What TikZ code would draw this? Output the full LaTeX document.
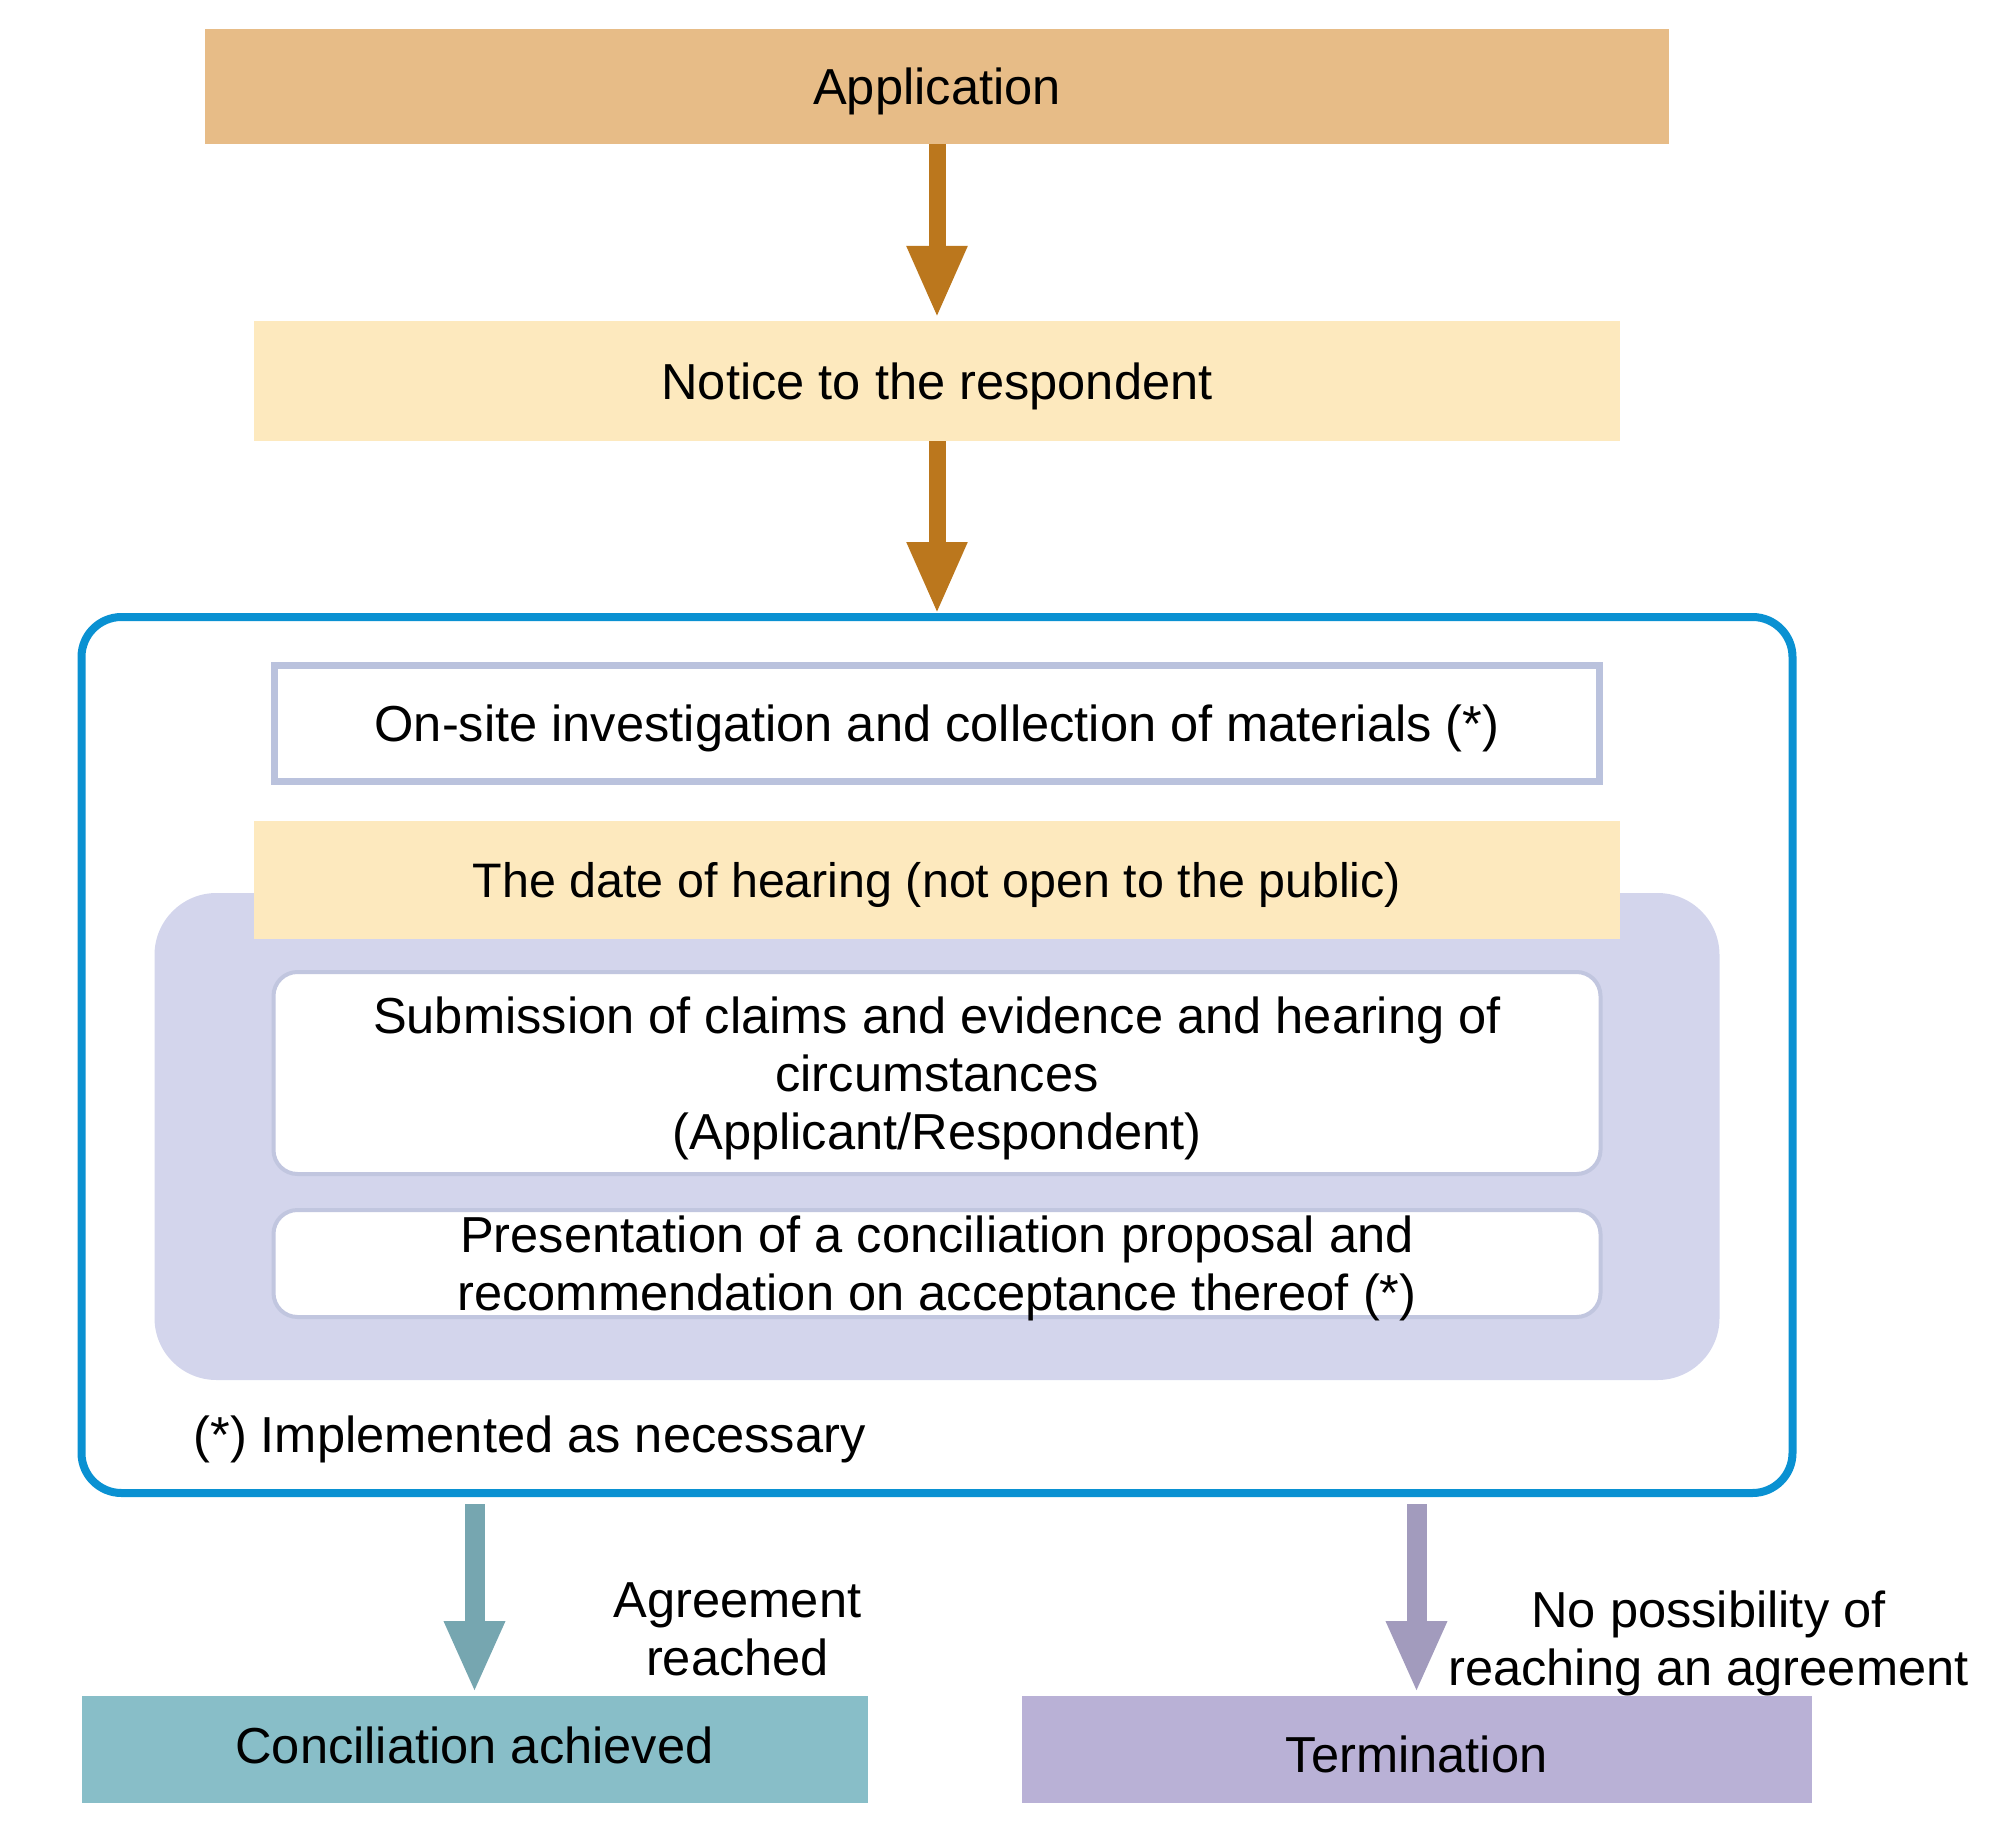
\documentclass[tikz,border=0pt]{standalone}
\usepackage{fontspec}
\setmainfont{Liberation Sans}
\usepackage{xcolor}
\usepackage{tikz}
\usetikzlibrary{positioning,arrows.meta}
\definecolor{appbrown}{HTML}{E7BC87}
\definecolor{arrowbrown}{HTML}{BB771D}
\definecolor{lightcream}{HTML}{FDE9BE}
\definecolor{frameblue}{HTML}{0A91D2}
\definecolor{greyblue}{HTML}{BAC2DD}
\definecolor{lavender}{HTML}{D3D5EC}
\definecolor{lavenderline}{HTML}{C1C6DF}
\definecolor{tealbox}{HTML}{88BEC8}
\definecolor{tealarrow}{HTML}{76A6B0}
\definecolor{purplebox}{HTML}{B9B1D6}
\definecolor{purplearrow}{HTML}{A29BBD}

\begin{document}
\begin{tikzpicture}[outer sep=0pt, inner sep=0pt, font=\fontsize{25.3}{29}\selectfont,
    bar/.style={align=center, text depth=0pt, minimum height=60pt, minimum width=683pt},
    card/.style={draw=lavenderline, line width=2pt, fill=white, rounded corners=12pt, align=center, text depth=0pt, minimum width=663.5pt},
    bigarrow/.style={line width=8.5pt, shorten >=1.5pt, -{Triangle[width=28pt,length=36pt]}}]

        \useasboundingbox (0,0) rectangle (1004pt,-917.5pt);

        % Nodes
        \node (application) [fill=appbrown, align=center, text depth=0pt, minimum height=57.5pt, minimum width=732pt] at (468.5pt,-43.25pt) {Application};
        \node (notice) [below=88.5pt of application, bar, fill=lightcream] {Notice to the respondent};
        \node (frame) [below=88pt of notice, draw=frameblue, line width=4pt, rounded corners=20pt, minimum height=438pt, minimum width=855.5pt] {};
        \node (onsite) [below=24pt of frame.north, draw=greyblue, line width=3.5pt, align=center, text depth=0pt, minimum height=58pt, minimum width=662.5pt] {On-site investigation and collection of materials (*)};
        \node (panel) [below=56pt of onsite, fill=lavender, rounded corners=31pt, minimum height=243.5pt, minimum width=782.5pt] {};
        \node (hearing) [below=20pt of onsite, bar, minimum height=59pt, fill=lightcream, font=\fontsize{24.2}{29}\selectfont] {The date of hearing (not open to the public)};
        \node (submission) [below=16.5pt of hearing, card, minimum height=101pt] {Submission of claims and evidence and hearing of\\circumstances\\(Applicant/Respondent)};
        \node (proposal) [below=18pt of submission, card, minimum height=53.5pt] {Presentation of a conciliation proposal and\\recommendation on acceptance thereof (*)};
        \node (note) [anchor=west] at ([xshift=56pt, yshift=27pt]frame.south west) {(*) Implemented as necessary};
        \node (conciliation) [below right=101.5pt and 0pt of frame.south west, fill=tealbox, align=center, text depth=4.5pt, minimum height=53.5pt, minimum width=393pt] {Conciliation achieved};
        \node (termination) [right=77pt of conciliation, fill=purplebox, align=center, text height=22.6pt, text depth=0pt, minimum height=53.5pt, minimum width=395pt] {Termination};
        \node (agreed) [align=center] at ([xshift=131.5pt, yshift=33.5pt]conciliation.north) {Agreement\\reached};
        \node (noagree) [align=center] at ([xshift=146pt, yshift=26.5pt]termination.north) {No possibility of\\reaching an agreement};

        % Arrows
        \foreach \i/\j in {application/notice, notice/frame} {
            \draw[bigarrow, arrowbrown] (\i) -- (\j);
        }
        \draw[bigarrow, line width=10pt, tealarrow] ([yshift=-5.5pt]frame.south -| conciliation.north) -- (conciliation.north);
        \draw[bigarrow, line width=10pt, purplearrow] ([yshift=-5.5pt]frame.south -| termination.north) -- (termination.north);

    \end{tikzpicture}
\end{document}
